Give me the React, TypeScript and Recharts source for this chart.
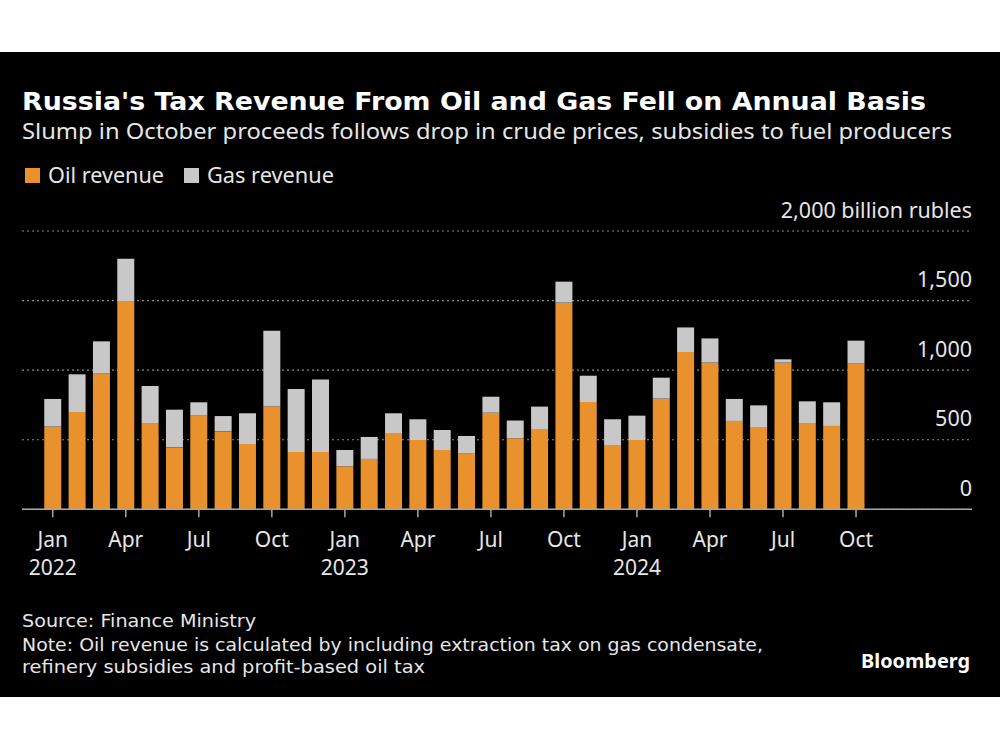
import React from "react";
import { BarChart, Bar, XAxis, YAxis, CartesianGrid } from "recharts";

const categories = [
  "Jan 2022", "Feb 2022", "Mar 2022", "Apr 2022", "May 2022", "Jun 2022",
  "Jul 2022", "Aug 2022", "Sep 2022", "Oct 2022", "Nov 2022", "Dec 2022",
  "Jan 2023", "Feb 2023", "Mar 2023", "Apr 2023", "May 2023", "Jun 2023",
  "Jul 2023", "Aug 2023", "Sep 2023", "Oct 2023", "Nov 2023", "Dec 2023",
  "Jan 2024", "Feb 2024", "Mar 2024", "Apr 2024", "May 2024", "Jun 2024",
  "Jul 2024", "Aug 2024", "Sep 2024", "Oct 2024",
];

const oilRevenue = [
  594, 699, 977, 1497, 615, 445, 675, 560, 469, 738, 412, 412,
  309, 362, 548, 498, 426, 402, 694, 510, 577, 1485, 771, 462,
  498, 795, 1130, 1054, 635, 591, 1054, 615, 599, 1049,
];

const gasRevenue = [
  199, 271, 230, 304, 271, 271, 94, 110, 221, 546, 452, 520,
  117, 158, 142, 149, 144, 125, 115, 129, 161, 151, 189, 185,
  175, 151, 177, 174, 158, 156, 24, 161, 170, 163,
];

const yTicks = [0, 500, 1000, 1500, 2000];

const data = categories.map((c, i) => ({
  category: c,
  oil: oilRevenue[i],
  gas: gasRevenue[i],
}));

const OIL = "#e8912d";
const GAS = "#c8c8c8";
const TEXT = "#e6e6e6";
const FONT = "'Noto Sans', 'DejaVu Sans', sans-serif";
const FOOT_FONT = "'DejaVu Sans', sans-serif";

const XTick = (props: any) => {
  const { x, y, payload } = props;
  const [mon, yr] = String(payload.value).split(" ");
  return (
    <g>
      <text x={x} y={y + 30} textAnchor="middle" fill={TEXT} fontSize={21} fontFamily={FONT}>
        {mon}
      </text>
      {mon === "Jan" && (
        <text x={x} y={y + 58} textAnchor="middle" fill={TEXT} fontSize={21} fontFamily={FONT}>
          {yr}
        </text>
      )}
    </g>
  );
};

const YTick = (props: any) => {
  const { y, payload } = props;
  const v = Number(payload.value);
  const label = v.toLocaleString("en-US") + (v === 2000 ? " billion rubles" : "");
  return (
    <text x={972} y={y - 13.5} textAnchor="end" fill={TEXT} fontSize={21.5} fontFamily={FONT}>
      {label}
    </text>
  );
};

export default function App() {
  return (
    <div style={{ position: "absolute", left: 0, top: 0, width: 1000, height: 750, background: "#fff" }}>
      <div style={{ position: "absolute", left: 0, top: 52, width: 1000, height: 645, background: "#000" }} />
      <svg
        width={1000}
        height={750}
        style={{ position: "absolute", left: 0, top: 0 }}
      >
        <text x={22} y={110} fill="#fff" fontSize={24} fontWeight={700} fontFamily="'DejaVu Sans', sans-serif" textLength={904} lengthAdjust="spacingAndGlyphs">
          Russia's Tax Revenue From Oil and Gas Fell on Annual Basis
        </text>
        <text x={22} y={139} fill={TEXT} fontSize={22} fontFamily={FONT} textLength={930} lengthAdjust="spacingAndGlyphs">
          Slump in October proceeds follows drop in crude prices, subsidies to fuel producers
        </text>
        <rect x={25} y={168} width={15} height={15} fill={OIL} />
        <text x={48} y={182.5} fill={TEXT} fontSize={21.5} fontFamily={FONT} textLength={116} lengthAdjust="spacingAndGlyphs">
          Oil revenue
        </text>
        <rect x={184} y={168} width={15} height={15} fill={GAS} />
        <text x={207} y={182.5} fill={TEXT} fontSize={21.5} fontFamily={FONT} textLength={127} lengthAdjust="spacingAndGlyphs">
          Gas revenue
        </text>
        <text x={22} y={627} fill={TEXT} fontSize={18.5} fontFamily={FOOT_FONT} textLength={234} lengthAdjust="spacingAndGlyphs">
          Source: Finance Ministry
        </text>
        <text x={22} y={651} fill={TEXT} fontSize={18.5} fontFamily={FOOT_FONT} textLength={741} lengthAdjust="spacingAndGlyphs">
          Note: Oil revenue is calculated by including extraction tax on gas condensate,
        </text>
        <text x={22} y={673} fill={TEXT} fontSize={18.5} fontFamily={FOOT_FONT} textLength={403} lengthAdjust="spacingAndGlyphs">
          refinery subsidies and profit-based oil tax
        </text>
        <text x={861} y={668} fill="#fff" fontSize={20} fontWeight={700} fontFamily={FONT} textLength={109} lengthAdjust="spacingAndGlyphs">
          Bloomberg
        </text>
      </svg>
      <div style={{ position: "absolute", left: 0, top: 0 }}>
        <BarChart
          width={1000}
          height={750}
          data={data}
          margin={{ top: 231, right: 27, left: 22, bottom: 180.7 }}
          barCategoryGap="15%"
        >
          <CartesianGrid vertical={false} stroke="#8a8a8a" strokeDasharray="2 3" strokeWidth={1.2} />
          <XAxis
            dataKey="category"
            interval={2}
            height={60}
            padding={{ left: 18.6, right: 103.8 }}
            axisLine={{ stroke: "#a8a8a8", strokeWidth: 1.5 }}
            tickLine={{ stroke: "#a8a8a8", strokeWidth: 1.5 }}
            tickSize={8}
            tickMargin={0}
            tick={<XTick />}
          />
          <YAxis
            orientation="right"
            width={1}
            domain={[0, 2000]}
            ticks={yTicks}
            interval={0}
            axisLine={false}
            tickLine={false}
            tickSize={0}
            tickMargin={0}
            tick={<YTick />}
          />
          <Bar dataKey="oil" stackId="a" fill={OIL} isAnimationActive={false} />
          <Bar dataKey="gas" stackId="a" fill={GAS} isAnimationActive={false} />
        </BarChart>
      </div>
    </div>
  );
}
